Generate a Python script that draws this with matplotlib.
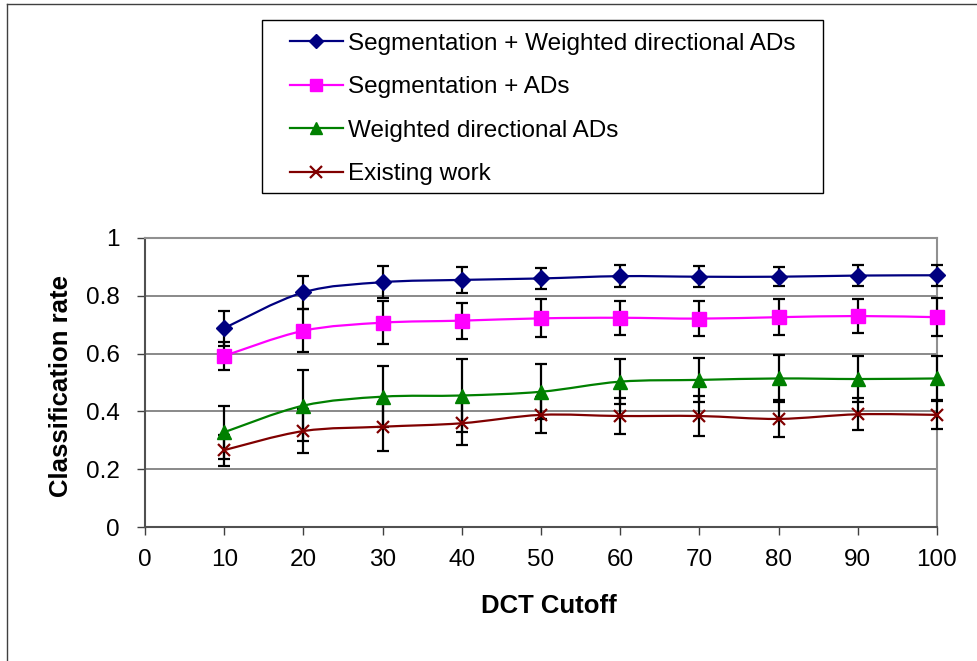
"""
plot.py
=======
Classification rate versus DCT cutoff for the four feature sets,
with error bars, drawn in the style of a spreadsheet line chart
(smoothed lines, boxed legend above the plot area).

Output
------
  out.png
"""

import matplotlib
matplotlib.use("Agg")
import matplotlib.pyplot as plt
from matplotlib.lines import Line2D
from matplotlib.patches import PathPatch, Rectangle
from matplotlib.path import Path


# --------------------------------------------------------------------------
# Data
# --------------------------------------------------------------------------

dct_cutoff = [10, 20, 30, 40, 50, 60, 70, 80, 90, 100]

labels = [
    "Segmentation + Weighted directional ADs",
    "Segmentation + ADs",
    "Weighted directional ADs",
    "Existing work",
]

seg_wad = [0.688, 0.812, 0.847, 0.855, 0.860, 0.868, 0.866, 0.866, 0.870, 0.871]
seg_wad_err = [0.060, 0.056, 0.056, 0.045, 0.036, 0.037, 0.037, 0.033, 0.037, 0.037]

seg_ad = [0.592, 0.679, 0.707, 0.714, 0.722, 0.724, 0.721, 0.726, 0.730, 0.726]
seg_ad_err = [0.048, 0.075, 0.075, 0.062, 0.066, 0.058, 0.060, 0.063, 0.060, 0.066]

wad = [0.328, 0.420, 0.451, 0.455, 0.468, 0.503, 0.509, 0.514, 0.512, 0.514]
wad_err = [0.092, 0.122, 0.106, 0.128, 0.096, 0.078, 0.075, 0.081, 0.080, 0.079]

existing = [0.266, 0.332, 0.347, 0.359, 0.388, 0.384, 0.384, 0.374, 0.390, 0.388]
existing_err = [0.054, 0.076, 0.084, 0.075, 0.063, 0.062, 0.068, 0.064, 0.056, 0.050]


# --------------------------------------------------------------------------
# Style
# --------------------------------------------------------------------------

W, H = 977, 661
FONT = "Liberation Sans"

# colour, marker, marker size, marker edge width
STYLES = [
    ("#000080", "D", 8.0, 1.0),
    ("#FF00FF", "s", 10.0, 1.0),
    ("#008000", "^", 10.0, 1.0),
    ("#800000", "x", 9.0, 1.6),
]


def smooth_path(xs, ys):
    """Bezier path through the points, like a spreadsheet 'smoothed line'."""
    pts = list(zip(xs, ys))
    verts = [pts[0]]
    codes = [Path.MOVETO]
    n = len(pts)
    for i in range(n - 1):
        p0 = pts[max(i - 1, 0)]
        p1 = pts[i]
        p2 = pts[i + 1]
        p3 = pts[min(i + 2, n - 1)]
        c1 = (p1[0] + (p2[0] - p0[0]) / 6.0, p1[1] + (p2[1] - p0[1]) / 6.0)
        c2 = (p2[0] - (p3[0] - p1[0]) / 6.0, p2[1] - (p3[1] - p1[1]) / 6.0)
        verts += [c1, c2, p2]
        codes += [Path.CURVE4] * 3
    return Path(verts, codes)


def main():
    plt.rcParams["font.family"] = [FONT, "DejaVu Sans"]

    fig = plt.figure(figsize=(W / 100, H / 100), dpi=100)
    ax = fig.add_axes([145 / W, 1 - 527 / H, 792 / W, 289 / H])

    series = [
        (seg_wad, seg_wad_err),
        (seg_ad, seg_ad_err),
        (wad, wad_err),
        (existing, existing_err),
    ]

    handles = []
    for (vals, errs), (color, marker, ms, mew), label in zip(series, STYLES, labels):
        ax.errorbar(dct_cutoff, vals, yerr=errs, fmt="none", ecolor="black",
                    elinewidth=1.6, capsize=4.5, capthick=1.6, zorder=3,
                    clip_on=False)
        ax.add_patch(PathPatch(smooth_path(dct_cutoff, vals), fill=False,
                               edgecolor=color, linewidth=1.6, zorder=4,
                               clip_on=False))
        ax.plot(dct_cutoff, vals, linestyle="none", marker=marker,
                markersize=ms, color=color, markeredgewidth=mew, zorder=5,
                clip_on=False)
        handles.append(Line2D([], [], color=color, linewidth=1.6,
                              marker=marker, markersize=ms * 0.9,
                              markeredgewidth=mew, label=label))

    # axes, ticks, grid
    ax.set_xlim(0, 100)
    ax.set_ylim(0, 1)
    ax.set_xticks(range(0, 101, 10))
    ax.set_yticks([0, 0.2, 0.4, 0.6, 0.8, 1.0])
    ax.set_yticklabels(["0", "0.2", "0.4", "0.6", "0.8", "1"])
    ax.tick_params(axis="both", direction="out", length=6, width=1.0,
                   color="#404040", labelsize=17.5, labelcolor="black")
    ax.tick_params(axis="y", pad=12)
    ax.tick_params(axis="x", pad=9.8)
    ax.yaxis.grid(True, color="#808080", linewidth=1.3, zorder=0)
    ax.set_axisbelow(True)
    for side in ("left", "bottom"):
        ax.spines[side].set_color("#505050")
        ax.spines[side].set_linewidth(1.5)
    for side in ("top", "right"):
        ax.spines[side].set_color("#909090")
        ax.spines[side].set_linewidth(1.5)

    ax.set_xlabel("DCT Cutoff", fontsize=18.5, fontweight="bold")
    ax.xaxis.set_label_coords((548.5 - 145) / 792, (527 - 593.7) / 289)
    ax.set_ylabel("Classification rate", fontsize=18.5, fontweight="bold")
    ax.yaxis.set_label_coords((73.5 - 145) / 792, (527 - 386) / 289)

    # legend, boxed above the plot area
    fig.legend(handles=handles, loc="upper left",
               bbox_to_anchor=(290 / W, 1 - 32.5 / H),
               frameon=False, borderpad=0, borderaxespad=0,
               handlelength=2.18, handletextpad=0.2, labelspacing=0.885,
               fontsize=17.5)
    fig.add_artist(Rectangle((262 / W, 1 - 193 / H), (823 - 262) / W,
                             (193 - 20) / H, transform=fig.transFigure,
                             fill=False, edgecolor="black", linewidth=1.0))

    # outer chart-area border (only left and top edges are in view)
    fig.add_artist(Line2D([7 / W, 7 / W], [0, 1 - 4 / H],
                          transform=fig.transFigure, color="#404040",
                          linewidth=1.0))
    fig.add_artist(Line2D([7 / W, 1], [1 - 4 / H, 1 - 4 / H],
                          transform=fig.transFigure, color="#404040",
                          linewidth=1.0))

    fig.savefig("out.png", dpi=100)
    plt.close(fig)


if __name__ == "__main__":
    main()
